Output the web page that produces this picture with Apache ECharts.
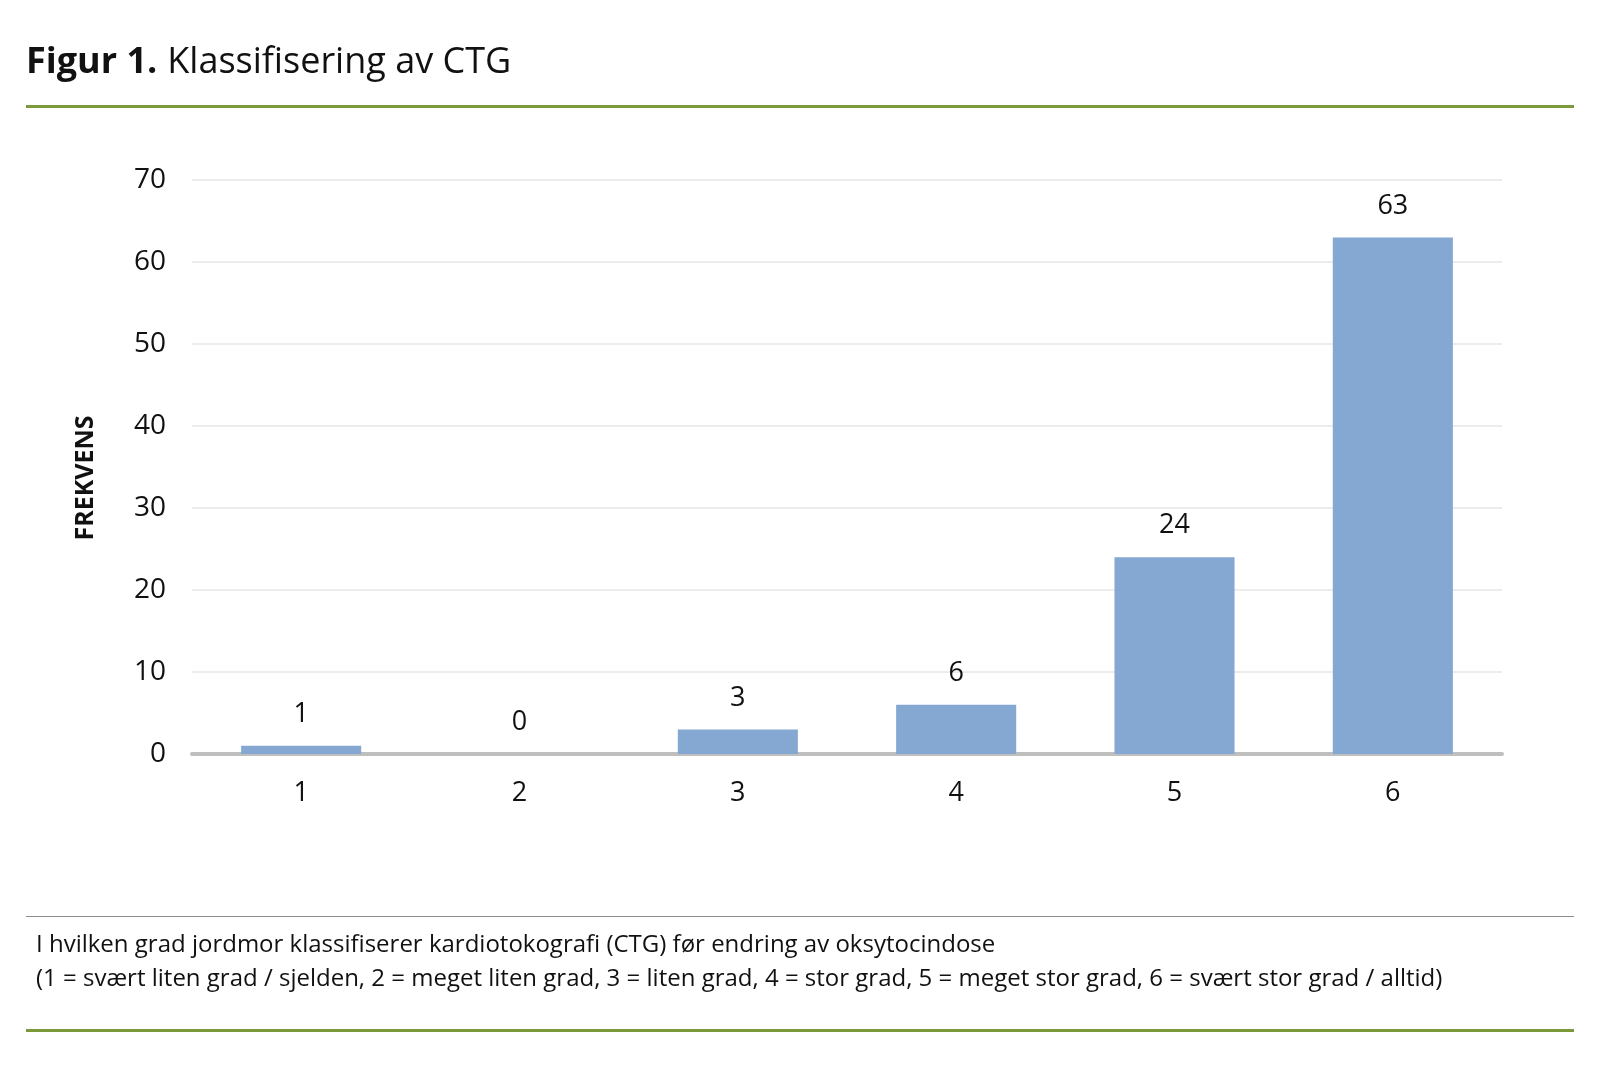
<!DOCTYPE html>
<html><head><meta charset="utf-8">
<script src="https://cdn.jsdelivr.net/npm/echarts@6/dist/echarts.min.js"></script>
<style>html,body{margin:0;padding:0;background:#fff}#c{width:1600px;height:1087px}</style>
</head><body><div id="c"></div>
<script>
const categories = ['1','2','3','4','5','6'];
const frequencies = [1, 0, 3, 6, 24, 63];
const yTicks = [0, 10, 20, 30, 40, 50, 60, 70];
const titleBold = 'Figur 1.';
const titleText = 'Klassifisering av CTG';
const yName = 'FREKVENS';
const noteLine1 = 'I hvilken grad jordmor klassifiserer kardiotokografi (CTG) før endring av oksytocindose';
const noteLine2 = '(1 = svært liten grad / sjelden, 2 = meget liten grad, 3 = liten grad, 4 = stor grad, 5 = meget stor grad, 6 = svært stor grad / alltid)';

const FONT = '"Open Sans", Lato, sans-serif';
const chart = echarts.init(document.getElementById('c'), null, {renderer: 'canvas'});
chart.setOption({
  backgroundColor: '#fff',
  animation: false,
  title: {
    left: 21, top: 40,
    text: '{b|' + titleBold + '}  {n|' + titleText + '}',
    textStyle: {
      rich: {
        b: {fontFamily: FONT, fontWeight: 'bold', fontSize: 36, color: '#111'},
        n: {fontFamily: FONT, fontWeight: 'normal', fontSize: 36, color: '#111'}
      }
    }
  },
  graphic: [
    {type: 'rect', shape: {x: 26, y: 105, width: 1548, height: 3}, style: {fill: '#7b9a3c'}},
    {type: 'rect', shape: {x: 26, y: 916, width: 1548, height: 1}, style: {fill: '#8c8c8c'}},
    {type: 'text', left: 36, top: 933, style: {text: noteLine1, font: '24px ' + FONT, fill: '#111'}},
    {type: 'text', left: 36, top: 967, style: {text: noteLine2, font: '24px ' + FONT, fill: '#111'}},
    {type: 'rect', shape: {x: 26, y: 1029, width: 1548, height: 3}, style: {fill: '#7b9a3c'}}
  ],
  grid: {left: 192, right: 98, top: 180, bottom: 333},
  xAxis: {
    type: 'category',
    data: categories,
    axisLine: {lineStyle: {color: '#bfbfbf', width: 4}},
    axisTick: {show: false},
    axisLabel: {fontFamily: FONT, fontSize: 27, color: '#111', margin: 26}
  },
  yAxis: {
    type: 'value',
    min: yTicks[0], max: yTicks[yTicks.length - 1], interval: 10,
    name: yName,
    nameLocation: 'middle',
    nameGap: 94,
    nameRotate: 90,
    nameTextStyle: {fontFamily: FONT, fontWeight: 'bold', fontSize: 25, color: '#111', padding: [0, 22, 0, 0]},
    axisLine: {show: false},
    axisTick: {show: false},
    splitLine: {lineStyle: {color: '#ececec', width: 2}},
    axisLabel: {fontFamily: FONT, fontSize: 28, color: '#111', margin: 26}
  },
  series: [{
    type: 'bar',
    data: frequencies,
    barWidth: '55%',
    itemStyle: {color: '#84a8d2'},
    label: {show: true, position: 'top', distance: 18, fontFamily: FONT, fontSize: 27, color: '#111'}
  }]
});
</script></body></html>
